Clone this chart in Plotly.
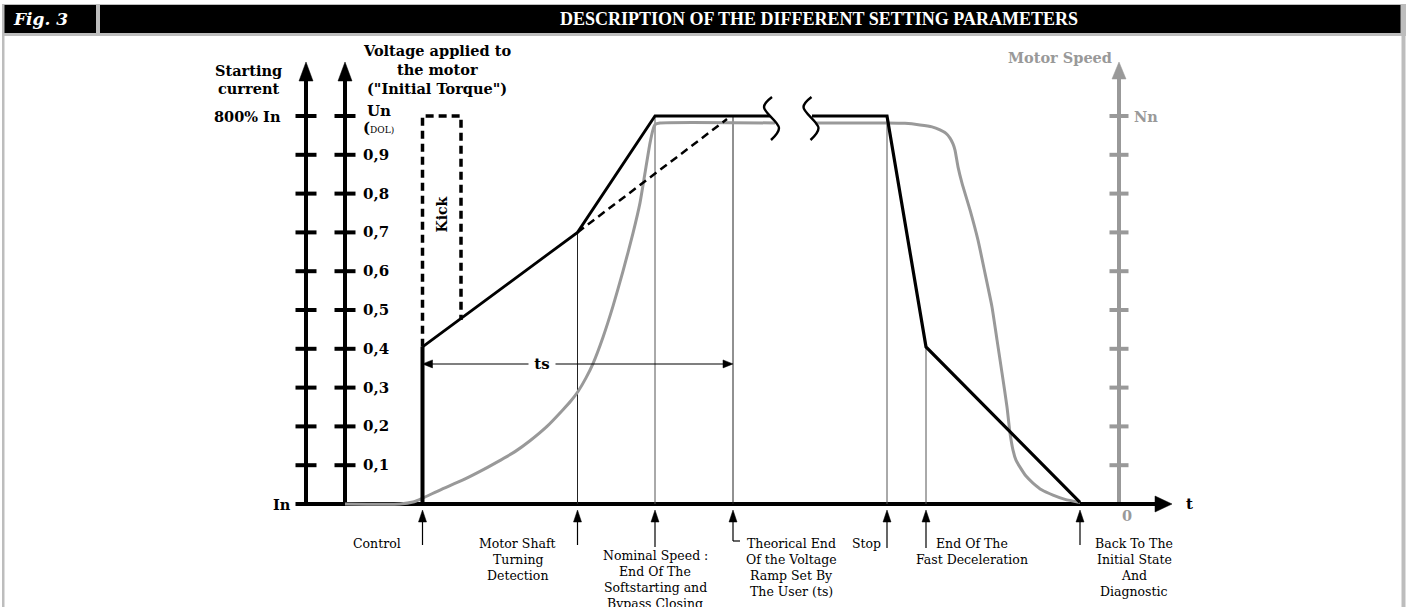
import plotly.graph_objects as go

# ---------------- data ----------------
# time in arbitrary units, voltage in per-unit of Un (Un = 1), speed in per-unit of Nn
volt_tick_vals = [0.1, 0.2, 0.3, 0.4, 0.5, 0.6, 0.7, 0.8, 0.9, 1.0]
volt_tick_labels = ["0,1", "0,2", "0,3", "0,4", "0,5", "0,6", "0,7", "0,8", "0,9", "Un"]
speed_tick_vals = [0.1, 0.2, 0.3, 0.4, 0.5, 0.6, 0.7, 0.8, 0.9, 1.0]

event_t = [7.75, 23.25, 31.0, 38.8, 54.2, 58.1, 73.5]
event_labels = [
    ["Control"],
    ["Motor Shaft", "Turning", "Detection"],
    ["Nominal Speed :", "End Of The", "Softstarting and", "Bypass Closing"],
    ["Theorical End", "Of the Voltage", "Ramp Set By", "The User (ts)"],
    ["Stop"],
    ["End Of The", "Fast Deceleration"],
    ["Back To The", "Initial State", "And", "Diagnostic"],
]

# applied voltage (soft start, then soft stop after the time break)
volt_start_t = [7.75, 7.75, 23.25, 31.0, 42.5]
volt_start_v = [0.0, 0.405, 0.70, 1.0, 1.0]
volt_stop_t = [46.7, 54.2, 58.1, 73.5]
volt_stop_v = [1.0, 1.0, 0.405, 0.004]
# kick pulse
kick_t = [7.75, 7.75, 11.6, 11.6]
kick_v = [0.405, 1.0, 1.0, 0.474]
# theoretical ramp
theo_t = [23.25, 38.2]
theo_v = [0.70, 0.992]
# vertical marker heights at events (voltage reached)
marker_t = [23.25, 31.0, 38.8, 54.2, 58.1]
marker_v = [0.70, 1.0, 1.0, 1.0, 0.405]

# motor speed
speed_start_t = [0.0, 5.5, 6.8, 7.75, 9.5, 11.8, 13.5, 15.2, 17.0, 18.5, 20.2, 21.8, 22.6,
                 23.3, 24.1, 24.8, 25.8, 26.8, 27.8, 28.8, 29.5, 30.0, 30.5, 30.8, 31.0,
                 31.5, 43.0]
speed_start_v = [0.0, 0.0, 0.005, 0.015, 0.036, 0.062, 0.084, 0.108, 0.135, 0.163, 0.200,
                 0.243, 0.266, 0.290, 0.325, 0.362, 0.430, 0.510, 0.600, 0.698, 0.776,
                 0.853, 0.930, 0.965, 0.978, 0.982, 0.982]
speed_stop_t = [47.0, 54.2, 56.0, 57.5, 58.7, 59.5, 60.1, 60.5, 60.8, 61.0, 61.3, 61.7,
                62.5, 63.3, 64.0, 64.7, 65.2, 65.7, 66.2, 66.5, 66.8, 67.1, 67.5, 68.1,
                68.8, 69.7, 70.8, 72.0, 73.5]
speed_stop_v = [0.982, 0.982, 0.981, 0.977, 0.972, 0.964, 0.955, 0.943, 0.928, 0.912,
                0.869, 0.827, 0.758, 0.680, 0.595, 0.508, 0.423, 0.338, 0.250, 0.183,
                0.139, 0.113, 0.095, 0.072, 0.054, 0.036, 0.023, 0.012, 0.004]

ts_v = 0.361
break_t = [42.6, 46.55]

# ---------------- geometry helpers ----------------
W, H = 1410, 607
T_RANGE = [-34.5, 106.5]
V_RANGE = [-103 / 388, 504 / 388]
PX_T = W / (T_RANGE[1] - T_RANGE[0])
PX_V = H / (V_RANGE[1] - V_RANGE[0])


def dt(px):
    return px / PX_T


def dv(px):
    return px / PX_V


BLACK = "#000000"
GREY = "#999999"
SERIF_B = "DejaVu Serif"
SERIF = "DejaVu Serif"

fig = go.Figure()


def line(xs, ys, color=BLACK, width=2, dash=None, shape="linear", smoothing=None):
    ld = dict(color=color, width=width, dash=dash, shape=shape)
    if smoothing is not None:
        ld["smoothing"] = smoothing
    fig.add_trace(go.Scatter(x=xs, y=ys, mode="lines", hoverinfo="skip", line=ld))


tri_x, tri_y = [], []
gtri_x, gtri_y = [], []


def tri(t, v, direction, w_px, h_px, grey=False):
    if direction == "up":
        xs = [t - dt(w_px / 2), t, t + dt(w_px / 2), t - dt(w_px / 2)]
        ys = [v - dv(h_px), v, v - dv(h_px), v - dv(h_px)]
    elif direction == "right":
        xs = [t - dt(h_px), t, t - dt(h_px), t - dt(h_px)]
        ys = [v + dv(w_px / 2), v, v - dv(w_px / 2), v + dv(w_px / 2)]
    else:  # left
        xs = [t + dt(h_px), t, t + dt(h_px), t + dt(h_px)]
        ys = [v + dv(w_px / 2), v, v - dv(w_px / 2), v + dv(w_px / 2)]
    if grey:
        gtri_x.extend(xs + [None]); gtri_y.extend(ys + [None])
    else:
        tri_x.extend(xs + [None]); tri_y.extend(ys + [None])


ann = []


def text(t, v, s, size=13, color=BLACK, bold=True, xanchor="center", yanchor="middle",
         angle=0, family=None, bg=None):
    ann.append(dict(x=t, y=v, xref="x", yref="y", text=s, showarrow=False,
                    xanchor=xanchor, yanchor=yanchor, textangle=angle,
                    bgcolor=bg, borderpad=0,
                    font=dict(family=family or (SERIF_B if bold else SERIF), size=size,
                              color=color, weight="bold" if bold else "normal")))


# ---------------- axes ----------------
T_CUR = -3.9      # starting-current axis
T_VOLT = 0.0      # voltage axis
T_SPEED = 77.4    # motor speed axis
V_TIP = dv(504 - 62)
AX_W = 4

for ta in (T_CUR, T_VOLT):
    line([ta, ta], [0, V_TIP - dv(16)], width=AX_W)
    tri(ta, V_TIP, "up", 14, 19)
    for tv in volt_tick_vals:
        line([ta - dt(10.5), ta + dt(10.5)], [tv, tv], width=AX_W)

line([T_SPEED, T_SPEED], [0, V_TIP - dv(16)], color=GREY, width=AX_W)
tri(T_SPEED, V_TIP, "up", 14, 17, grey=True)
for tv in speed_tick_vals:
    line([T_SPEED - dt(9.5), T_SPEED + dt(9.5)], [tv, tv], color=GREY, width=AX_W)

# time axis
T_AX_START = T_CUR - dt(10.5)
T_AX_TIP = dt(1172 - 345)
line([T_AX_START, T_AX_TIP - dt(14)], [0, 0], width=AX_W)
tri(T_AX_TIP, 0, "right", 16, 17)

# ---------------- curves ----------------
# vertical event markers inside the diagram
for i, (mt, mv) in enumerate(zip(marker_t, marker_v)):
    line([mt, mt], [0, mv], color="#222222" if i in (0, 2) else "#555555", width=1)

line(speed_start_t, speed_start_v, color=GREY, width=3, shape="spline", smoothing=0.5)
line(speed_stop_t, speed_stop_v, color=GREY, width=3, shape="spline", smoothing=0.5)

line(kick_t, kick_v, width=3.5, dash="8px,5px")
line(theo_t, theo_v, width=2.5, dash="8px,5px")
line(volt_start_t[1:], volt_start_v[1:], width=2.8)
line(volt_start_t[:2], volt_start_v[:2], width=4)
line(volt_stop_t, volt_stop_v, width=3.2)

# time-break symbols
S_OFF = [(1, -22), (-7, -12), (8, 9), (0, 21)]
for bt in break_t:
    line([bt + dt(p[0]) for p in S_OFF], [1.0 - dv(p[1]) + dv(-3) for p in S_OFF],
         width=2.4, shape="spline")

# ts dimension arrow
line([event_t[0] + dt(8), event_t[3] - dt(8)], [ts_v, ts_v], width=1.1)
tri(event_t[0], ts_v, "left", 8, 10)
tri(event_t[3], ts_v, "right", 8, 10)
text((event_t[0] + event_t[3]) / 2 - dt(36), ts_v, " ts ", size=15, bg="white")

# kick label
text(event_t[0] + dt(19), dv(504 - 215), "Kick", size=14, angle=-90)

# ---------------- event arrows & labels ----------------
ARROW_TIP = -dv(6)
line_bottoms = [545, 545, 547, 541, 548, 548, 545]
label_dx = [-46, -60, 0, 58, -5, 46, 54]
label_top = [543, 543, 555, 543, 543, 543, 543]
label_anchor = ["center", "center", "center", "center", "right", "center", "center"]
for et, lines_, lb, ldx, lt, la in zip(event_t, event_labels, line_bottoms, label_dx,
                                       label_top, label_anchor):
    line([et, et], [ARROW_TIP - dv(8), -dv(lb - 504)], width=1.2)
    tri(et, ARROW_TIP, "up", 8, 12)
    for k, s in enumerate(lines_):
        text(et + dt(ldx), -dv(lt + 16 * k - 504), s, size=12.5, bold=False,
             xanchor=la)
# bracket of "Theorical End"
line([event_t[3], event_t[3] + dt(7)], [-dv(541 - 504)] * 2, width=1.2)

fig.add_trace(go.Scatter(x=tri_x, y=tri_y, mode="lines", fill="toself", fillcolor=BLACK,
                         line=dict(color=BLACK, width=0.5), hoverinfo="skip"))
fig.add_trace(go.Scatter(x=gtri_x, y=gtri_y, mode="lines", fill="toself", fillcolor=GREY,
                         line=dict(color=GREY, width=0.5), hoverinfo="skip"))

# ---------------- axis texts ----------------
LBL = 14.5
text(T_CUR - dt(58), dv(504 - 70), "Starting", size=LBL)
text(T_CUR - dt(58), dv(504 - 88), "current", size=LBL)
text(T_CUR - dt(24), 1.0, "800% In", size=LBL, xanchor="right")
text(T_CUR - dt(14), 0.0, "In", size=LBL, xanchor="right")
text(T_VOLT + dt(92), dv(504 - 50), "Voltage applied to", size=LBL)
text(T_VOLT + dt(92), dv(504 - 69), "the motor", size=LBL)
text(T_VOLT + dt(92), dv(504 - 88), "(\"Initial Torque\")", size=LBL)
for tv, tl in zip(volt_tick_vals, volt_tick_labels):
    if tl == "Un":
        text(T_VOLT + dt(21), tv + dv(5), tl, size=15, xanchor="left")
    else:
        text(T_VOLT + dt(17), tv, tl, size=15, xanchor="left")
text(T_VOLT + dt(17), 1.0 - dv(12),
     "(<span style='font-size:9px;font-weight:normal'>DOL)</span>", size=15,
     xanchor="left")
text(T_SPEED - dt(6), dv(504 - 57), "Motor Speed", size=LBL, color=GREY, xanchor="right")
text(T_SPEED + dt(14), 1.0, "Nn", size=LBL, color=GREY, xanchor="left")
text(T_SPEED + dt(8), -dv(11), "0", size=LBL, color=GREY)
text(T_AX_TIP + dt(17), 0.0, "t", size=15)

# ---------------- header & frame (paper coords) ----------------
def px2paper(x, y):
    return x / W, 1 - y / H


shapes = []


def rect(x0, y0, x1, y1, color):
    a, b = px2paper(x0, y0)
    c, d = px2paper(x1, y1)
    shapes.append(dict(type="rect", xref="paper", yref="paper", x0=a, y0=d, x1=c, y1=b,
                       fillcolor=color, line=dict(width=0), layer="below"))


FRAME = "#bdbdbd"
rect(2, 4, 1406, 36, FRAME)
rect(2, 4, 4.5, 607, FRAME)
rect(1401.5, 4, 1405.5, 607, FRAME)
rect(4.5, 5, 96, 33, BLACK)
rect(100, 5, 1400.5, 33, BLACK)

hx, hy = px2paper(11, 19)
ann.append(dict(x=hx, y=hy, xref="paper", yref="paper", text="<i>Fig. 3</i>",
                showarrow=False, xanchor="left", yanchor="middle",
                font=dict(family="DejaVu Serif", size=17, color="white", weight="bold")))
hx, hy = px2paper(819, 19)
ann.append(dict(x=hx, y=hy, xref="paper", yref="paper",
                text="DESCRIPTION OF THE DIFFERENT SETTING PARAMETERS",
                showarrow=False, xanchor="center", yanchor="middle",
                font=dict(family="Liberation Serif", size=18, color="white", weight="bold")))

fig.update_layout(
    width=W, height=H, margin=dict(l=0, r=0, t=0, b=0),
    paper_bgcolor="white", plot_bgcolor="white", showlegend=False,
    xaxis=dict(range=T_RANGE, visible=False, fixedrange=True),
    yaxis=dict(range=V_RANGE, visible=False, fixedrange=True),
    annotations=ann, shapes=shapes,
)
fig.write_html("out.html", config={"displayModeBar": False},
               post_script="document.body.style.margin='0';")
